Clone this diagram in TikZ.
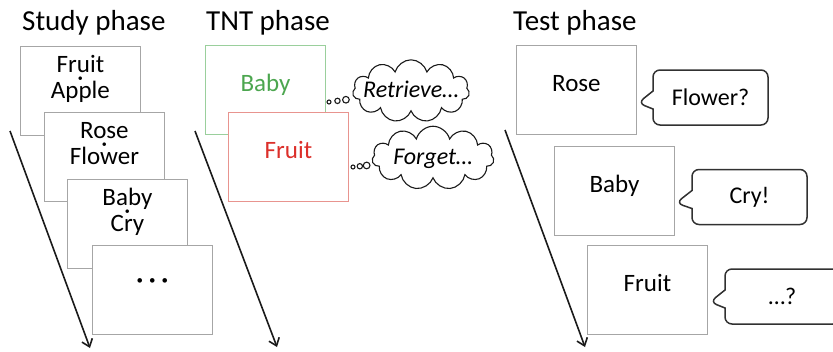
\documentclass[tikz,border=0pt]{standalone}
\usepackage{fontspec}
\setmainfont{Carlito}
\usepackage{tikz}
\usetikzlibrary{arrows.meta,positioning,calc,shapes.symbols,shapes.callouts}
\definecolor{bx}{HTML}{A6A6A6}
\definecolor{gb}{HTML}{9ACF9C}
\definecolor{gt}{HTML}{4CA64F}
\definecolor{rb}{HTML}{E8948F}
\definecolor{rt}{HTML}{DC2F2A}
\definecolor{ln}{HTML}{1A1A1A}
\newcommand{\pairdot}{{\fontsize{10}{10}\selectfont\textbullet}}

\tikzset{
  card/.style={draw=bx, line width=0.9pt, fill=white, minimum width=120pt,
    minimum height=89pt, inner sep=0pt, anchor=north west,
    text height=10pt, text depth=7pt, font=\fontsize{25}{25}\selectfont},
  word/.style={font=\fontsize{25}{25}\selectfont, inner sep=0pt, anchor=base},
  phase/.style={font=\fontsize{29}{29}\selectfont, anchor=base west, inner sep=0pt},
  timeline/.style={draw=ln, line width=1.6pt, -{Straight Barb[length=7pt,width=11pt]}},
  thought/.style={cloud callout, draw=ln, line width=1.1pt, fill=white,
    cloud puffs=11, cloud ignores aspect, inner xsep=-8pt, inner ysep=4pt,
    text height=16pt, text depth=4pt,
    font=\fontsize{24}{24}\selectfont\itshape,
    callout pointer start size=9pt and 8pt, callout pointer end size=4pt and 4pt,
    callout pointer segments=3},
  speech/.style={rectangle callout, draw=ln!90, line width=1.5pt, rounded corners=7pt,
    minimum width=115pt, minimum height=55pt, inner sep=0pt,
    font=\fontsize{24}{24}\selectfont, callout pointer width=18pt}
}

\begin{document}
\begin{tikzpicture}[x=1pt, y=-1pt]
  \useasboundingbox (0,0) rectangle (833,351);

  % study phase
  \node[phase] (study) at (22,30) {Study phase};
  \coordinate (sa) at (10,131);
  \coordinate (sb) at (90,348);
  \draw[timeline] (sa) -- (sb);
  \foreach \i/\x/\y/\cue/\tgt in {1/20/46/Fruit/Apple, 2/44/112/Rose/Flower, 3/67/179/Baby/Cry}{
    \node[card] (s\i) at (\x,\y) {};
    \node[word] (c\i) at ([yshift=-26pt]s\i.north) {\cue};
    \node[inner sep=0pt] (d\i) at ([yshift=-33pt]s\i.north) {\pairdot};
    \node[word] (t\i) at ([yshift=-52pt]s\i.north) {\tgt};
  }
  \node[card] (s4) at (92,245) {};
  \node[inner sep=0pt] (more) at ([yshift=-37pt]s4.north)
    {\fontsize{13}{13}\selectfont\textbullet\hspace{6pt}\textbullet\hspace{6pt}\textbullet};

  % TNT phase
  \node[phase] (tnt) at (206,30) {TNT phase};
  \coordinate (ta) at (195,131);
  \coordinate (tb) at (277,347);
  \draw[timeline] (ta) -- (tb);
  \node[card, draw=gb, text=gt] (nb) at (205,45) {Baby};
  \node[card, draw=rb, text=rt] (nf) at (228,112) {Fruit};
  \node[thought, callout absolute pointer={(329,102)}] (ret) at (411,91) {Retrieve…};
  \node[thought, inner xsep=2pt, callout absolute pointer={(353,167)}] (forg) at (433,158) {Forget…};

  % test phase
  \node[phase] (test) at (513,30) {Test phase};
  \coordinate (xa) at (505,130);
  \coordinate (xb) at (585,347);
  \draw[timeline] (xa) -- (xb);
  \node[card] (r1) at (516,45) {Rose};
  \node[card] (r2) at (554,146) {Baby};
  \node[card] (r3) at (587,245) {Fruit};
  \node[speech, callout absolute pointer={(638,103)}] (a1) at (710.5,97.5) {Flower?};
  \node[speech, callout absolute pointer={(676,203)}] (a2) at (749.5,197) {Cry!};
  \node[speech, callout absolute pointer={(710,302)}] (a3) at (782.5,296.5) {…?};
\end{tikzpicture}
\end{document}
